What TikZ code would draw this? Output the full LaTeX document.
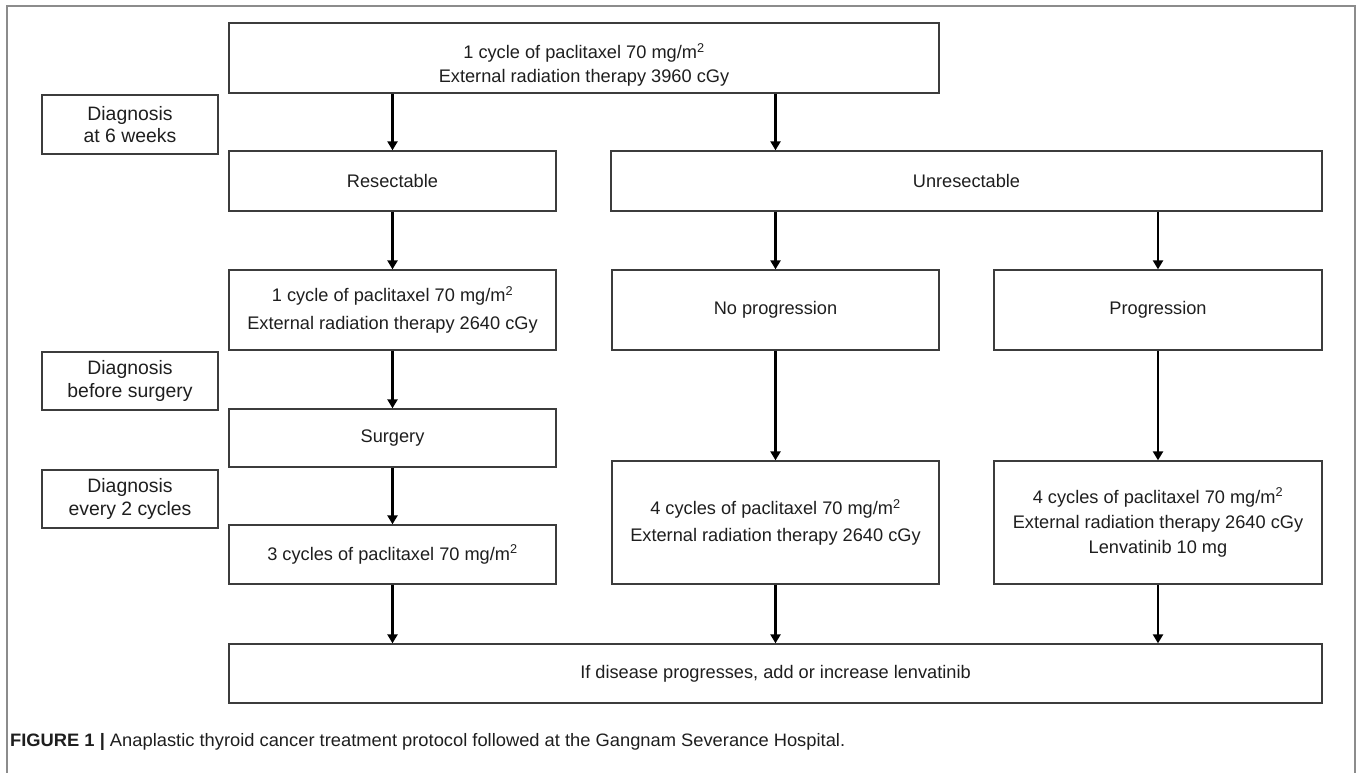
\documentclass[tikz,border=0pt]{standalone}
\usepackage{fontspec}
\setmainfont{Liberation Sans}
\usepackage{graphicx}
\usetikzlibrary{arrows.meta}
\definecolor{boxline}{HTML}{3C3C3C}
\definecolor{frameline}{HTML}{8C8C8C}
\definecolor{txt}{HTML}{1E1E1E}
\tikzset{
  box/.style={draw=boxline, line width=1.3pt, rectangle, inner sep=0pt, align=center,
    text=txt, font=\fontsize{18.2}{27.5}\selectfont},
  lbl/.style={box, font=\fontsize{19.4}{22.7}\selectfont},
  txtonly/.style={inner sep=0pt, align=center, text=txt, font=\fontsize{18.2}{24}\selectfont},
  flow/.style={line width=2.8pt, draw=black, -{Triangle[length=9pt,width=10pt]}},
  frame/.style={draw=frameline, line width=1.8pt}
}
\begin{document}
\begin{tikzpicture}[x=1pt,y=-1pt]
\useasboundingbox (0,0) rectangle (1358,773);
\draw[frame] (7,773) -- (7,6) -- (1355,6) -- (1355,773);

\node[box, minimum width=710pt, minimum height=70pt] (top) at (584,58) {};
\node[txtonly] (toptxt) at (584,65)
  {1 cycle of paclitaxel 70 mg/m\textsuperscript{2}\\External radiation therapy 3960 cGy};
\node[lbl, minimum width=176pt, minimum height=59pt] (d6) at (130,124.5) {Diagnosis\\at 6 weeks};
\node[box, minimum width=327pt, minimum height=60pt] (res) at (392.5,181) {Resectable};
\node[box, minimum width=711pt, minimum height=60pt] (unres) at (966.5,181) {Unresectable};
\node[box, minimum width=327pt, minimum height=80pt] (c1) at (392.5,310)
  {1 cycle of paclitaxel 70 mg/m\textsuperscript{2}\\External radiation therapy 2640 cGy};
\node[box, minimum width=327pt, minimum height=80pt] (nop) at (775.5,310) {No progression};
\node[box, minimum width=328pt, minimum height=80pt] (prog) at (1158,310) {Progression};
\node[lbl, minimum width=176pt, minimum height=58pt] (dbs) at (130,381) {Diagnosis\\before surgery};
\node[box, minimum width=327pt, minimum height=58pt] (surg) at (392.5,438) {Surgery};
\node[lbl, minimum width=176pt, minimum height=58pt] (d2) at (130,499) {Diagnosis\\every 2 cycles};
\node[box, minimum width=327pt, minimum height=59pt] (c3) at (392.5,554.5) {3 cycles of paclitaxel 70 mg/m\textsuperscript{2}};
\node[box, minimum width=327pt, minimum height=123pt] (c4n) at (775.5,522.5)
  {4 cycles of paclitaxel 70 mg/m\textsuperscript{2}\\External radiation therapy 2640 cGy};
\node[box, minimum width=328pt, minimum height=123pt, font=\fontsize{18.2}{25}\selectfont] (c4p) at (1158,522.5)
  {4 cycles of paclitaxel 70 mg/m\textsuperscript{2}\\External radiation therapy 2640 cGy\\Lenvatinib 10 mg};
\node[box, minimum width=1093pt, minimum height=59pt] (fin) at (775.5,673.5)
  {If disease progresses, add or increase lenvatinib};

\draw[flow] (top.south -| res) -- (res.north);
\draw[flow] (top.south -| nop) -- (unres.north -| nop);
\draw[flow] (res) -- (c1);
\draw[flow] (unres.south -| nop) -- (nop.north);
\draw[flow] (unres.south -| prog) -- (prog.north);
\draw[flow] (c1) -- (surg);
\draw[flow] (surg) -- (c3);
\draw[flow] (nop) -- (c4n);
\draw[flow] (prog) -- (c4p);
\draw[flow] (c3.south) -- (fin.north -| c3);
\draw[flow] (c4n.south) -- (fin.north -| c4n);
\draw[flow] (c4p.south) -- (fin.north -| c4p);

\node[anchor=west, inner sep=0pt, text=txt, font=\fontsize{18}{20}\selectfont] (cap) at (10,742)
  {\resizebox{835pt}{\height}{\textbf{FIGURE 1 |} Anaplastic thyroid cancer treatment protocol followed at the Gangnam Severance Hospital.}};
\end{tikzpicture}
\end{document}
